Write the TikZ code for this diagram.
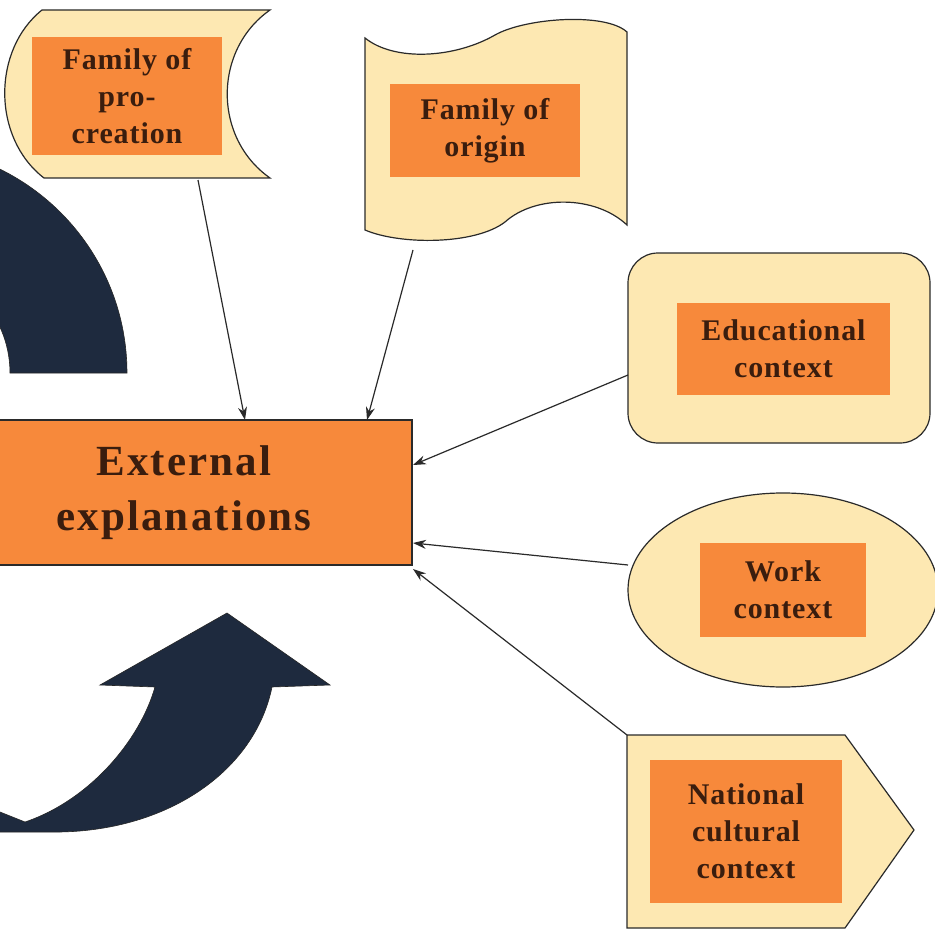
\documentclass[tikz,border=0pt]{standalone}
\usepackage{fontspec}
\setmainfont{Liberation Serif}
\newfontfamily\lbl[LetterSpace=3]{Liberation Serif}
\newfontfamily\biglbl[LetterSpace=5]{Liberation Serif}
\usetikzlibrary{arrows.meta}
\definecolor{pale}{HTML}{FDE8B2}
\definecolor{org}{HTML}{F7893B}
\definecolor{txt}{HTML}{3A1D0E}
\definecolor{navy}{HTML}{1E2A3E}
\definecolor{edgec}{HTML}{2A2A2A}
\begin{document}
\begin{tikzpicture}[x=1pt,y=-1pt,
  shapebox/.style={fill=pale,draw=edgec,line width=1.2pt},
  inner/.style={fill=org,text=txt,font=\lbl\bfseries\fontsize{30}{37}\selectfont,align=center,inner sep=0pt},
  conn/.style={draw=edgec,line width=1.2pt,-{Stealth[length=13pt,width=9pt]}},
  navyshape/.style={fill=navy,draw=black!85,line width=0.6pt}]
\useasboundingbox (0,0) rectangle (935,931);
\clip (0,0) rectangle (935,931);
\fill[white] (0,0) rectangle (935,931);

% dark navy arrows
\path[navyshape] (127,373) arc[start angle=0,end angle=90,radius=227pt]
  -- (-100,263) arc[start angle=90,end angle=0,radius=110pt] -- cycle;
\path[navyshape] (-5,810) -- (25,822) .. controls (90,800) and (140,740) .. (155,687)
  -- (100,685) -- (227,613) -- (330,685) -- (272,687)
  .. controls (255,770) and (170,830) .. (60,832) -- (-5,832) -- cycle;

% outer shapes
\path[shapebox] (42,10) -- (270,10) .. controls (213,50) and (213,138) .. (270,178)
  -- (44,178) .. controls (-8,138) and (-8,50) .. (42,10) -- cycle;
\path[shapebox] (365,38) .. controls (395,62) and (455,58) .. (495,35)
  .. controls (525,18) and (605,12) .. (627,32) -- (627,225)
  .. controls (595,195) and (535,195) .. (505,222)
  .. controls (475,245) and (400,245) .. (365,230) -- cycle;
\path[shapebox,rounded corners=30pt] (628,253) rectangle (930,443);
\path[shapebox] (783,590) ellipse[x radius=155pt,y radius=97pt];
\path[shapebox] (627,735) -- (845,735) -- (914,830) -- (845,928) -- (627,928) -- cycle;

% inner labels
\node[inner,minimum width=190,minimum height=118] (fpc) at (127,96) {Family of\\pro-\\creation};
\node[inner,minimum width=190,minimum height=93] (fo) at (485,131) {Family of\\origin};
\node[inner,minimum width=213,minimum height=92] (ed) at (783.5,349) {Educational\\context};
\node[inner,minimum width=166,minimum height=94] (wk) at (783,590) {Work\\context};
\node[inner,minimum width=192,minimum height=143] (nat) at (746,831) {National\\cultural\\context};

\node[fill=org,draw=edgec,line width=1.2pt,minimum width=456,minimum height=145,inner sep=0pt,
  text=txt,font=\biglbl\bfseries\fontsize{43}{55}\selectfont,align=center] (ext) at (184,492.5) {External\\explanations};

% connectors
\coordinate (s1) at (198,180);
\coordinate (t1) at (245,420);
\coordinate (s2) at (413,250);
\coordinate (t2) at (367,420);
\coordinate (s3) at (628,375);
\coordinate (t3) at (413,465);
\coordinate (s4) at (628,565);
\coordinate (t4) at (413,543);
\coordinate (s5) at (627,735);
\coordinate (t5) at (413,569);
\draw[conn] (s1) -- (t1);
\draw[conn] (s2) -- (t2);
\draw[conn] (s3) -- (t3);
\draw[conn] (s4) -- (t4);
\draw[conn] (s5) -- (t5);
\end{tikzpicture}
\end{document}
